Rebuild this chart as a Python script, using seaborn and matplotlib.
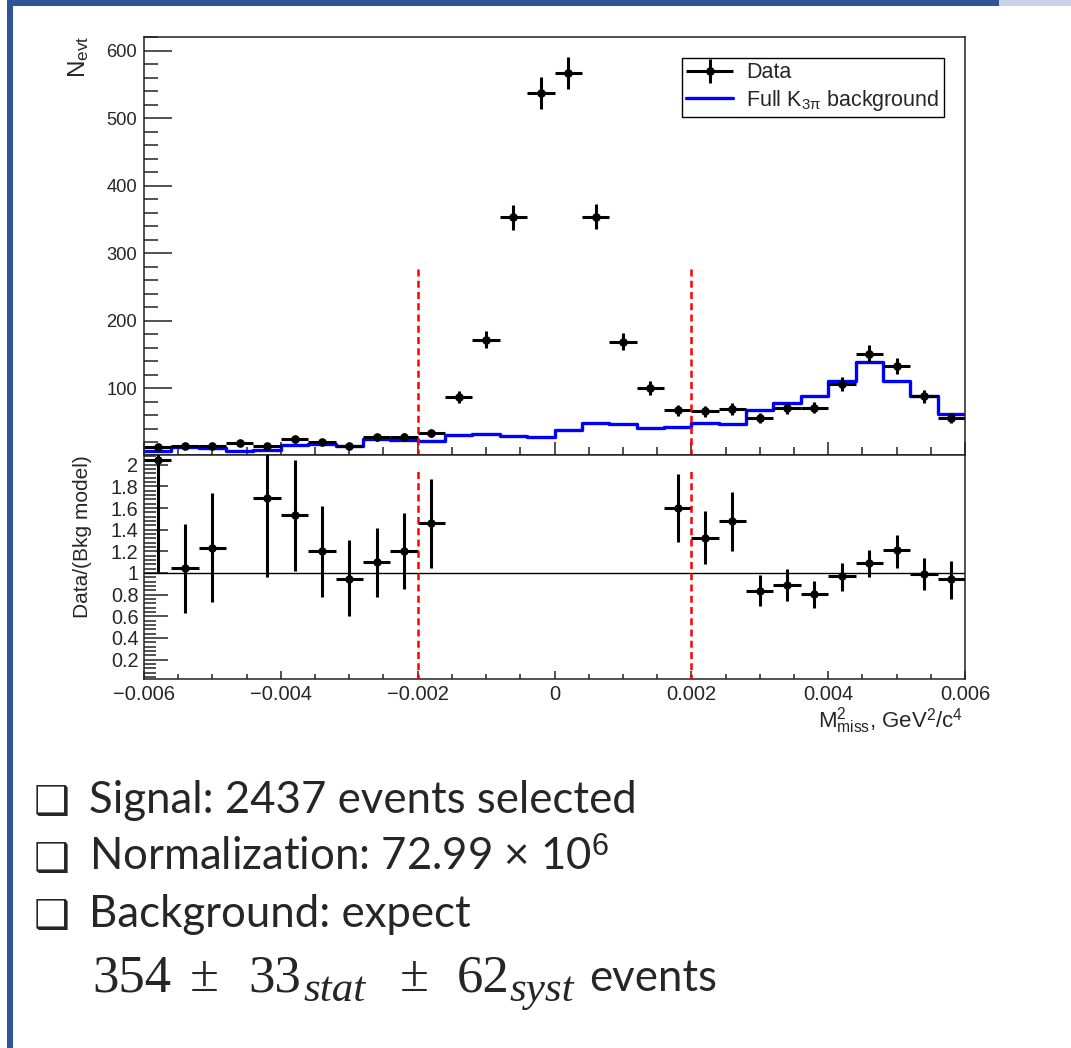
import numpy as np
import pandas as pd
import matplotlib
matplotlib.use("Agg")
import matplotlib.pyplot as plt
import seaborn as sns
from matplotlib.lines import Line2D
from matplotlib.patches import Rectangle
from matplotlib.container import ErrorbarContainer
from matplotlib.legend_handler import HandlerErrorbar
from matplotlib.ticker import FixedLocator, FixedFormatter, MultipleLocator

# ---------------- data ----------------
bin_centers = [-0.0058, -0.0054, -0.0050, -0.0046, -0.0042, -0.0038, -0.0034, -0.0030,
               -0.0026, -0.0022, -0.0018, -0.0014, -0.0010, -0.0006, -0.0002,
               0.0002, 0.0006, 0.0010, 0.0014, 0.0018, 0.0022, 0.0026, 0.0030,
               0.0034, 0.0038, 0.0042, 0.0046, 0.0050, 0.0054, 0.0058]
bin_half_width = 0.0002

data_counts = [12.5, 14.5, 15, 18.5, 15, 24, 20, 14, 27, 28, 33, 87, 172, 353, 537,
               567, 354, 169, 100, 67, 66, 69, 56, 70, 71, 106, 151, 133, 88, 56]
data_errors = [3.5, 3.8, 3.9, 4.3, 3.9, 4.9, 4.5, 3.7, 5.2, 5.3, 5.7, 9.3, 13.1, 18.8, 23.2,
               23.8, 18.8, 13.0, 10.0, 8.2, 8.1, 8.3, 7.5, 8.4, 8.4, 10.3, 12.3, 11.5, 9.4, 7.5]
bkg_counts = [6.5, 13.5, 12, 7.6, 9, 16, 17, 14.5, 24.5, 23, 22.4, 30.8, 31.8, 29.8, 27,
              38.5, 48, 46.5, 41.7, 42.5, 49, 46.5, 68, 78.5, 89, 111, 139, 110.5, 88.6, 61]

ratio_x = [-0.0058, -0.0054, -0.0050, -0.0042, -0.0038, -0.0034, -0.0030, -0.0026,
           -0.0022, -0.0018, 0.0018, 0.0022, 0.0026, 0.0030, 0.0034, 0.0038,
           0.0042, 0.0046, 0.0050, 0.0054, 0.0058]
ratio_val = [2.04, 1.05, 1.23, 1.69, 1.54, 1.20, 0.945, 1.10, 1.20, 1.46, 1.60, 1.32,
             1.48, 0.835, 0.89, 0.81, 0.97, 1.09, 1.21, 0.99, 0.94]
ratio_lo = [1.01, 0.63, 0.73, 0.96, 1.02, 0.78, 0.60, 0.78, 0.85, 1.05, 1.29, 1.08,
            1.20, 0.69, 0.74, 0.68, 0.83, 0.96, 1.05, 0.84, 0.76]
ratio_hi = [3.0, 1.45, 1.74, 2.5, 2.04, 1.62, 1.30, 1.42, 1.55, 1.87, 1.91, 1.57,
            1.75, 0.98, 1.04, 0.93, 1.09, 1.21, 1.35, 1.14, 1.11]

cut_values = [-0.002, 0.002]
cut_top_main = 283
cut_top_ratio = 1.95

x_ticks = [-0.006, -0.004, -0.002, 0.0, 0.002, 0.004, 0.006]
x_tick_labels = ["\u22120.006", "\u22120.004", "\u22120.002", "0", "0.002", "0.004", "0.006"]
y_ticks_main = [100, 200, 300, 400, 500, 600]
y_ticks_ratio = [0.2, 0.4, 0.6, 0.8, 1.0, 1.2, 1.4, 1.6, 1.8, 2.0]
y_tick_labels_ratio = ["0.2", "0.4", "0.6", "0.8", "1", "1.2", "1.4", "1.6", "1.8", "2"]

bullet_lines = ["Signal: 2437 events selected",
                "Normalization: 72.99 \u00d7 10$^{\\mathsf{6}}$",
                "Background: expect"]
# last line pieces: (text, kind)
last_line_pieces = [("354", "num"), ("\u00b1", "num"), ("33", "num"), ("stat", "sub"),
                    ("\u00b1", "num"), ("62", "num"), ("syst", "sub"), ("events", "word")]
last_line_x = [92, 190, 248, 303, 400, 457, 509, 589]   # layout (pixels)

# ---------------- style ----------------
sns.set_theme(style="ticks")
plt.rcParams["font.family"] = ["Liberation Sans", "DejaVu Sans"]
plt.rcParams["mathtext.fontset"] = "custom"
plt.rcParams["mathtext.rm"] = "Liberation Serif"
plt.rcParams["mathtext.it"] = "Liberation Serif:italic"
plt.rcParams["mathtext.sf"] = "Liberation Sans"
plt.rcParams["axes.edgecolor"] = "#222222"
plt.rcParams["axes.linewidth"] = 1.1

W, H = 1071, 1048
fig = plt.figure(figsize=(W / 100, H / 100), dpi=100)
fig.patch.set_facecolor("white")

ax1 = fig.add_axes([144 / W, 1 - 455 / H, 821 / W, 418 / H])
ax2 = fig.add_axes([144 / W, 1 - 679 / H, 821 / W, 224 / H])

df = pd.DataFrame({"m2": bin_centers, "data": data_counts, "err": data_errors, "bkg": bkg_counts})

# background histogram (step)
sns.histplot(data=df, x="m2", weights="bkg", binwidth=2 * bin_half_width,
             binrange=(-0.006, 0.006), element="step", fill=False,
             color="#0000ff", linewidth=2.4, ax=ax1, zorder=2)

# data points
eb = ax1.errorbar(df["m2"], df["data"], yerr=df["err"], xerr=bin_half_width, fmt="o",
                  color="black", ms=5.2, elinewidth=2.2, capsize=0, zorder=3, label="Data")

ax1.vlines(cut_values, 0, cut_top_main, colors="#ff0000", linestyles=(0, (2.8, 1.7)),
           lw=1.8, zorder=4)

ax1.set_xlim(-0.006, 0.006)
ax1.set_ylim(1, 620)
ax1.set_xlabel("")
ax1.set_ylabel("")
ax1.yaxis.set_major_locator(FixedLocator(y_ticks_main))
ax1.yaxis.set_minor_locator(MultipleLocator(20))
ax1.xaxis.set_major_locator(FixedLocator(x_ticks))
ax1.xaxis.set_minor_locator(MultipleLocator(0.0005))
ax1.tick_params(axis="x", which="both", labelbottom=False, direction="in", width=1.1, color="#222222")
ax1.tick_params(axis="x", which="major", length=9.5)
ax1.tick_params(axis="x", which="minor", length=5.5)
ax1.tick_params(axis="y", which="both", direction="in", width=1.1, color="#222222",
                labelsize=13.2, pad=5)
ax1.tick_params(axis="y", which="major", length=20)
ax1.tick_params(axis="y", which="minor", length=10)
for s in ax1.spines.values():
    s.set_visible(True)

leg_handles = [eb, Line2D([0], [0], color="#0000ff", lw=2.4)]
leg_labels = ["Data", r"Full K$_{\mathsf{3\pi}}$ background"]
leg = ax1.legend(leg_handles, leg_labels, loc="upper right", bbox_to_anchor=(0.9744, 0.9498),
                 fontsize=15.5, frameon=True, fancybox=False, framealpha=1, edgecolor="black",
                 borderpad=0.2, handlelength=2.2, handletextpad=0.6, labelspacing=0.2,
                 borderaxespad=0,
                 handler_map={ErrorbarContainer: HandlerErrorbar(xerr_size=1.1, yerr_size=0.55)})
leg.get_frame().set_linewidth(1.0)

# ratio panel
rv = np.array(ratio_val)
ax2.errorbar(ratio_x, rv, yerr=[rv - np.array(ratio_lo), np.array(ratio_hi) - rv],
             xerr=bin_half_width, fmt="o", color="black", ms=5, elinewidth=2.2, capsize=0, zorder=3)
ax2.axhline(1.0, color="black", lw=1.0, zorder=2)
ax2.vlines(cut_values, 0, cut_top_ratio, colors="#ff0000", linestyles=(0, (2.8, 1.7)),
           lw=1.8, zorder=4)
ax2.set_xlim(-0.006, 0.006)
ax2.set_ylim(0.02, 2.09)
ax2.yaxis.set_major_locator(FixedLocator(y_ticks_ratio))
ax2.yaxis.set_major_formatter(FixedFormatter(y_tick_labels_ratio))
ax2.yaxis.set_minor_locator(MultipleLocator(0.04))
ax2.xaxis.set_major_locator(FixedLocator(x_ticks))
ax2.xaxis.set_major_formatter(FixedFormatter(x_tick_labels))
ax2.xaxis.set_minor_locator(MultipleLocator(0.0005))
ax2.tick_params(axis="x", which="both", direction="in", width=1.1, color="#222222",
                labelsize=14.5, pad=4)
ax2.tick_params(axis="x", which="major", length=5.5)
ax2.tick_params(axis="x", which="minor", length=3.5)
ax2.tick_params(axis="y", which="both", direction="in", width=1.1, color="#222222",
                labelsize=14.3, pad=4)
ax2.tick_params(axis="y", which="major", length=17)
ax2.tick_params(axis="y", which="minor", length=8.5)
for s in ax2.spines.values():
    s.set_visible(True)

# axis titles (ROOT style, aligned at the ends)
fig.text(79 / W, 1 - 36 / H, r"N$_{\mathsf{evt}}$", rotation=90, ha="center", va="top", fontsize=17.5)
fig.text(83 / W, 1 - 455 / H, "Data/(Bkg model)", rotation=90, ha="center", va="top", fontsize=15)
fig.text(963 / W, 1 - 706 / H, r"M$^{\mathsf{2}}_{\mathsf{miss}}$, GeV$^{\mathsf{2}}$/c$^{\mathsf{4}}$",
         ha="right", va="top", fontsize=16)

# slide text
body_font = ["Lato", "DejaVu Sans"]
BODY_FS = 31.5
baselines = [813, 870, 927]
for yb, txt in zip(baselines, bullet_lines):
    fig.text(34 / W, 1 - (yb + 1) / H, "\u2751", fontsize=29, family=["DejaVu Sans"],
             va="baseline", ha="left")
    fig.text(89 / W, 1 - yb / H, txt, fontsize=BODY_FS, family=body_font, va="baseline", ha="left")

last_baseline = 991
for (txt, kind), xp in zip(last_line_pieces, last_line_x):
    if kind == "num":
        fig.text(xp / W, 1 - last_baseline / H, txt, fontsize=38, family=["Liberation Serif"],
                 va="baseline", ha="left")
    elif kind == "sub":
        fig.text(xp / W, 1 - (last_baseline + 10) / H, txt, fontsize=31, family=["Liberation Serif"],
                 style="italic", va="baseline", ha="left")
    else:
        fig.text(xp / W, 1 - last_baseline / H, txt, fontsize=BODY_FS, family=body_font,
                 va="baseline", ha="left")

# slide frame
fig.patches.append(Rectangle((7 / W, 0), 6 / W, 1, transform=fig.transFigure,
                             facecolor="#2f5597", edgecolor="none", zorder=0))
fig.patches.append(Rectangle((7 / W, 1 - 6 / H), (999 - 7) / W, 6 / H, transform=fig.transFigure,
                             facecolor="#2f5597", edgecolor="none", zorder=0))
fig.patches.append(Rectangle((999 / W, 1 - 6 / H), (W - 999) / W, 6 / H, transform=fig.transFigure,
                             facecolor="#c9d3e8", edgecolor="none", zorder=0))

fig.savefig("out.png", dpi=100)
